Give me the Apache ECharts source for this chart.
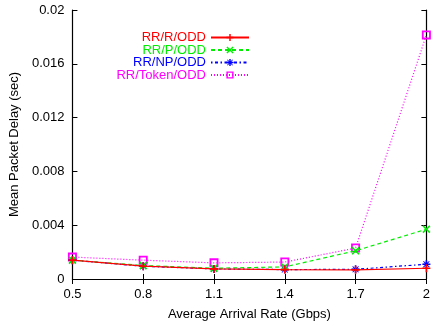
<!DOCTYPE html>
<html><head><meta charset="utf-8">
<script src="https://cdn.jsdelivr.net/npm/echarts@6/dist/echarts.min.js"></script>
<style>html,body{margin:0;padding:0;background:#fff}#c{width:433px;height:326px}</style>
</head><body><div id="c"></div>
<script>
const xValues = [0.5, 0.8, 1.1, 1.4, 1.7, 2.0];
const seriesNames = ['RR/R/ODD', 'RR/P/ODD', 'RR/NP/ODD', 'RR/Token/ODD'];
const rrR = [0.0014, 0.00095, 0.00075, 0.0007, 0.00068, 0.0008];
const rrP = [0.0014, 0.001, 0.0008, 0.0009, 0.0021, 0.0037];
const rrNP = [0.0014, 0.00095, 0.00075, 0.0007, 0.00072, 0.0011];
const rrToken = [0.00163, 0.0014, 0.0012, 0.00126, 0.0023, 0.01815];
const yTicks = [0, 0.004, 0.008, 0.012, 0.016, 0.02];

const FONT = 'Liberation Sans, Arial, Helvetica, sans-serif';
const colors = ['#ff0000', '#00ee00', '#0000ff', '#ff00ff'];
const dashes = ['solid', [4, 3], [1.5, 2.5, 3, 2.5], [1, 2]];
const symbols = [
  'path://M4,0H6V4H10V6H6V10H4V6H0V4H4Z',
  'path://M1.4,0L5,3.6L8.6,0L10,1.4L6.4,5L10,8.6L8.6,10L5,6.4L1.4,10L0,8.6L3.6,5L0,1.4Z',
  'path://M4,0H6V3.2L8.3,0.9L9.1,1.7L6.8,4H10V6H6.8L9.1,8.3L8.3,9.1L6,6.8V10H4V6.8L1.7,9.1L0.9,8.3L3.2,6H0V4H3.2L0.9,1.7L1.7,0.9L4,3.2Z',
  'path://M0,0H10V10H0Z M2,2V8H8V2Z'
];
const datas = [rrR, rrP, rrNP, rrToken];

const series = seriesNames.map((n, i) => ({
  name: n, type: 'line',
  data: xValues.map((x, j) => [x, datas[i][j]]),
  symbol: symbols[i], symbolSize: i === 3 ? 9 : 8,
  lineStyle: {color: colors[i], width: 1.2, type: dashes[i]},
  itemStyle: {color: colors[i]},
  z: 10 - i, animation: false
}));

const legends = seriesNames.map((n, i) => ({
  data: [n], orient: 'vertical', align: 'right',
  right: 183, top: 31 + i * 12.5,
  itemWidth: 38, itemHeight: 9, padding: 0,
  textStyle: {color: colors[i], fontFamily: FONT, fontSize: 13},
  selectedMode: false
}));

const axisCommon = {
  axisLine: {show: true, lineStyle: {color: '#000', width: 1.2}},
  axisTick: {show: true, inside: true, length: 5, lineStyle: {color: '#000'}},
  splitLine: {show: false}
};

const option = {
  backgroundColor: '#fff',
  animation: false,
  grid: {left: 70, right: 3, top: 10, bottom: 46, containLabel: false},
  legend: legends,
  xAxis: [
    Object.assign({type: 'value', min: 0.5, max: 2, interval: 0.3, position: 'bottom',
      name: 'Average Arrival Rate (Gbps)', nameLocation: 'middle', nameGap: 29,
      nameTextStyle: {fontFamily: FONT, fontSize: 13, color: '#000'},
      axisLabel: {fontFamily: FONT, fontSize: 13, color: '#000', margin: 9}}, axisCommon),
    Object.assign({type: 'value', min: 0.5, max: 2, interval: 0.3, position: 'top',
      axisLabel: {show: false}}, axisCommon)
  ],
  yAxis: [
    Object.assign({type: 'value', min: yTicks[0], max: yTicks[yTicks.length - 1], interval: 0.004, position: 'left',
      name: 'Mean Packet Delay (sec)', nameLocation: 'middle', nameGap: 50,
      nameTextStyle: {fontFamily: FONT, fontSize: 13, color: '#000'},
      axisLabel: {fontFamily: FONT, fontSize: 13, color: '#000', margin: 8}}, axisCommon),
    Object.assign({type: 'value', min: yTicks[0], max: yTicks[yTicks.length - 1], interval: 0.004, position: 'right',
      axisLabel: {show: false}}, axisCommon)
  ],
  series: series
};
echarts.init(document.getElementById('c'), null, {renderer: 'canvas'}).setOption(option);
</script></body></html>
